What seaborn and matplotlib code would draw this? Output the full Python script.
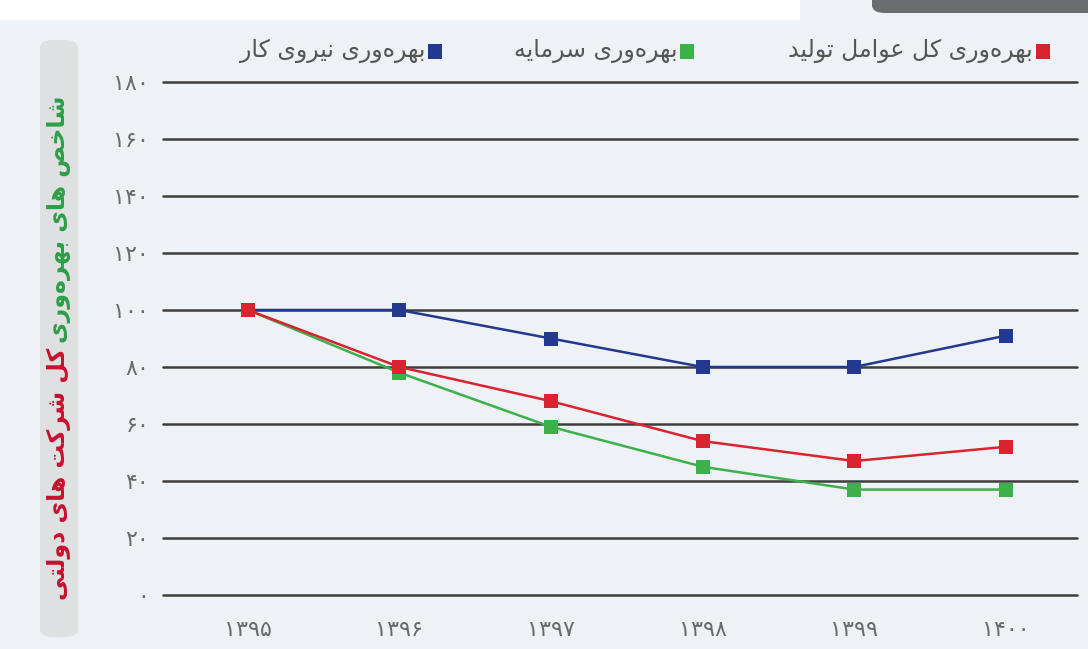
import pandas as pd
import seaborn as sns
import matplotlib.pyplot as plt
from matplotlib.patches import Rectangle, FancyBboxPatch

# data
years = ["۱۳۹۵", "۱۳۹۶", "۱۳۹۷", "۱۳۹۸", "۱۳۹۹", "۱۴۰۰"]
labor = [100, 100, 90, 80, 80, 91]
tfp = [100, 80, 68, 54, 47, 52]
capital = [100, 78, 59, 45, 37, 37]
series_names = ["بهره‌وری نیروی کار", "بهره‌وری سرمایه", "بهره‌وری کل عوامل تولید"]
yticks = [0, 20, 40, 60, 80, 100, 120, 140, 160, 180]
ytick_labels = ["۰", "۲۰", "۴۰", "۶۰", "۸۰", "۱۰۰", "۱۲۰", "۱۴۰", "۱۶۰", "۱۸۰"]
ylabel_a = "شاخص های بهره‌وری"
ylabel_b = "کل شرکت های دولتی"

colors = ["#22398f", "#3cb04a", "#d9232f"]

# matplotlib has no arabic shaping -> pick presentation forms by hand, then reverse
FORMS = {
    'ا': ('\uFE8D', '\uFE8E', None, None),
    'د': ('\uFEA9', '\uFEAA', None, None),
    'ر': ('\uFEAD', '\uFEAE', None, None),
    'و': ('\uFEED', '\uFEEE', None, None),
    'ب': ('\uFE8F', '\uFE90', '\uFE91', '\uFE92'),
    'ت': ('\uFE95', '\uFE96', '\uFE97', '\uFE98'),
    'خ': ('\uFEA5', '\uFEA6', '\uFEA7', '\uFEA8'),
    'س': ('\uFEB1', '\uFEB2', '\uFEB3', '\uFEB4'),
    'ش': ('\uFEB5', '\uFEB6', '\uFEB7', '\uFEB8'),
    'ص': ('\uFEB9', '\uFEBA', '\uFEBB', '\uFEBC'),
    'ع': ('\uFEC9', '\uFECA', '\uFECB', '\uFECC'),
    'ل': ('\uFEDD', '\uFEDE', '\uFEDF', '\uFEE0'),
    'م': ('\uFEE1', '\uFEE2', '\uFEE3', '\uFEE4'),
    'ن': ('\uFEE5', '\uFEE6', '\uFEE7', '\uFEE8'),
    'ه': ('\uFEE9', '\uFEEA', '\uFEEB', '\uFEEC'),
    'ک': ('\uFB8E', '\uFB8F', '\uFB90', '\uFB91'),
    'ی': ('\uFBFC', '\uFBFD', '\uFBFE', '\uFBFF'),
}


def fa(s):
    out = []
    for i, ch in enumerate(s):
        if ch == '\u200c':
            continue
        if ch not in FORMS:
            out.append(ch)
            continue
        prev = s[i - 1] if i > 0 else ''
        nxt = s[i + 1] if i + 1 < len(s) else ''
        jp = prev in FORMS and FORMS[prev][2] is not None
        jn = nxt in FORMS and FORMS[ch][2] is not None
        iso, fin, ini, med = FORMS[ch]
        if jp and jn:
            out.append(med)
        elif jp:
            out.append(fin)
        elif jn:
            out.append(ini)
        else:
            out.append(iso)
    return ''.join(out)[::-1]


df = pd.DataFrame({
    "year": years * 3,
    "value": labor + capital + tfp,
    "series": [series_names[0]] * 6 + [series_names[1]] * 6 + [series_names[2]] * 6,
})

sns.set_style("white")
plt.rcParams['font.family'] = ['DejaVu Sans']

fig = plt.figure(figsize=(10.88, 6.49), dpi=100)
fig.patch.set_facecolor("#eef1f5")
ax = fig.add_axes([163 / 1088, 54 / 649, 914 / 1088, 513 / 649])
ax.set_facecolor("none")

sns.lineplot(data=df, x="year", y="value", hue="series", hue_order=series_names,
             palette=colors, marker="s", markersize=10, markeredgewidth=0,
             linewidth=1.8, legend=False, ax=ax, clip_on=False, zorder=3)

ax.set_ylim(0, 180)
ax.set_xlim(-0.56, 5.47)
ax.set_yticks(yticks)
ax.set_yticklabels(ytick_labels, fontsize=16, color="#6a6a6a")
ax.set_xticks(range(len(years)))
ax.set_xticklabels(years, fontsize=16, color="#6a6a6a")
ax.tick_params(axis="y", length=0, pad=10)
ax.tick_params(axis="x", length=0, pad=18)
ax.set_xlabel("")
ax.set_ylabel("")
for s in ax.spines.values():
    s.set_visible(False)
for v in yticks:
    ax.axhline(v, color="#3d3d3d", lw=1.8, zorder=1, clip_on=False)

# decorations from the cropped infographic
fig.patches.append(Rectangle((0, 629 / 649), 800 / 1088, 20 / 649, transform=fig.transFigure,
                             facecolor="white", edgecolor="none"))
fig.patches.append(FancyBboxPatch((872 / 1088, 636 / 649), 230 / 1088, 30 / 649,
                                  boxstyle="round,pad=0,rounding_size=0.012",
                                  transform=fig.transFigure, facecolor="#6b6c6e", edgecolor="none"))
fig.patches.append(FancyBboxPatch((40 / 1088, 12 / 649), 38 / 1088, 597 / 649,
                                  boxstyle="round,pad=0,rounding_size=0.012",
                                  transform=fig.transFigure, facecolor="#dfe0e2", edgecolor="none"))

# vertical two-colour y label
fig.text(59 / 1088, 306 / 649, fa(ylabel_a), rotation=90, ha="center", va="bottom",
         color="#2e9e48", fontsize=17, fontweight="bold")
fig.text(59 / 1088, 301 / 649, fa(ylabel_b), rotation=90, ha="center", va="top",
         color="#c8102e", fontsize=17, fontweight="bold")

# legend along the top (right to left)
legend_right = [1050, 694, 442]
for name, c, xr in zip(series_names[::-1], colors[::-1], legend_right):
    fig.patches.append(Rectangle(((xr - 14) / 1088, (649 - 59) / 649), 14 / 1088, 15 / 649,
                                 transform=fig.transFigure, facecolor=c, edgecolor="none"))
    fig.text((xr - 17) / 1088, (649 - 51) / 649, fa(name), ha="right", va="center",
             color="#555555", fontsize=17)

fig.savefig("out.png", dpi=100, facecolor=fig.get_facecolor())
